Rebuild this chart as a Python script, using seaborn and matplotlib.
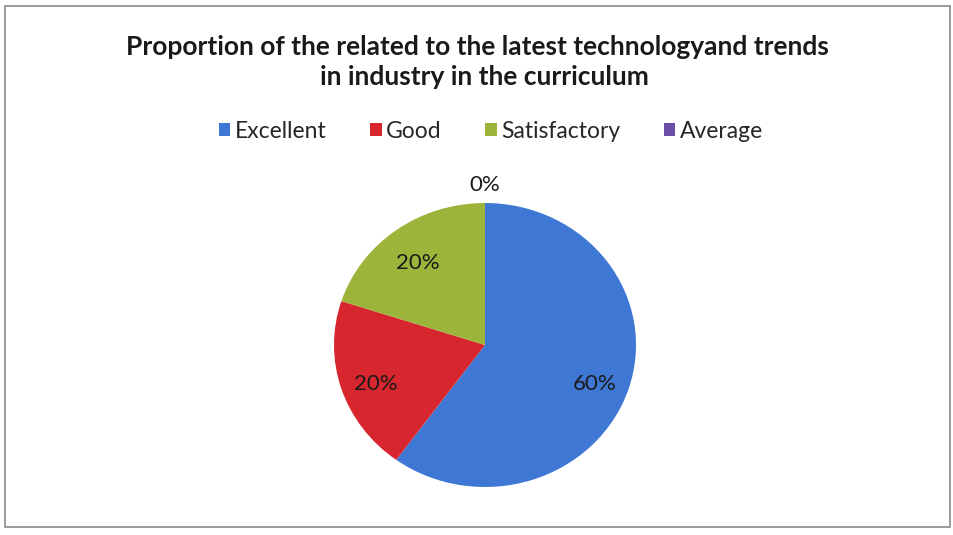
import matplotlib.pyplot as plt
import numpy as np
import seaborn as sns
from matplotlib.patches import Patch, Rectangle

# data
categories = ['Excellent', 'Good', 'Satisfactory', 'Average']
values = [60, 20, 20, 0]
colors = ['#3f78d4', '#d8262e', '#9cb43a', '#6a4ea8']

sns.set_theme(style='white')
plt.rcParams['font.family'] = ['Lato', 'DejaVu Sans']

W, H = 954, 535
fig = plt.figure(figsize=(W / 100, H / 100), dpi=100)
fig.patch.set_facecolor('white')

# thin frame around the chart area
fig.patches.append(Rectangle((5 / W, 1 - 527 / H), 945 / W, 521 / H,
                             transform=fig.transFigure, fill=False,
                             edgecolor='#8a8a8a', linewidth=1.2))

fig.text(477 / W, 1 - 47 / H,
         'Proportion of the related to the latest technologyand trends',
         ha='center', va='center', fontsize=19, fontweight='bold', color='#1a1a1a')
fig.text(484 / W, 1 - 77 / H, 'in industry in the curriculum',
         ha='center', va='center', fontsize=19, fontweight='bold', color='#1a1a1a')

# pie axes placed by its center and radii in pixels
cx, cy, rx, ry = 485, 345, 151, 142
ax = fig.add_axes([(cx - rx) / W, 1 - (cy + ry) / H, 2 * rx / W, 2 * ry / H])
wedges, _ = ax.pie(values, colors=colors, startangle=90, counterclock=False,
                   wedgeprops=dict(linewidth=0))
ax.set_aspect('auto')
ax.set_xlim(-1, 1)
ax.set_ylim(-1, 1)

for w, v in zip(wedges, values):
    mid = np.deg2rad((w.theta1 + w.theta2) / 2)
    d = 0.76 if v > 0 else 1.13
    ax.text(d * np.cos(mid), d * np.sin(mid) - (0.04 if v > 0 else 0), f'{v}%',
            ha='center', va='center', fontsize=16, color='#1a1a1a', clip_on=False)

handles = [Patch(facecolor=c, edgecolor='none') for c in colors]
fig.legend(handles, categories, loc='center', bbox_to_anchor=(491 / W, 1 - 131 / H),
           ncol=4, frameon=False, fontsize=16.5, handlelength=0.5, handleheight=0.5,
           handletextpad=0.2, columnspacing=1.9)

fig.savefig('out.png', dpi=100)
